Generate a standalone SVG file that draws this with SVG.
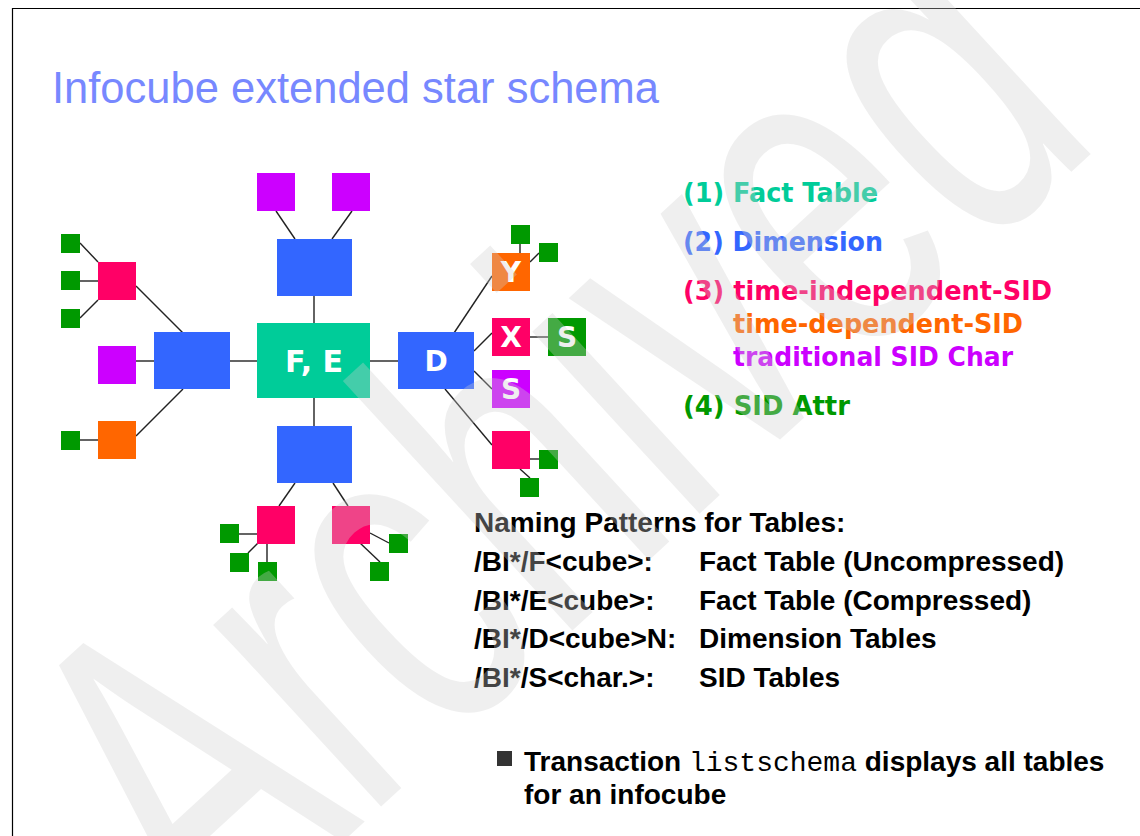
<svg xmlns="http://www.w3.org/2000/svg" width="1140" height="836" viewBox="0 0 1140 836">
  <style>
    .dim { fill: #3366ff; }
    .fact { fill: #00cc99; }
    .red { fill: #ff0066; }
    .ora { fill: #ff6600; }
    .pur { fill: #cc00ff; }
    .grn { fill: #009900; }
    .lbl { font-family: "DejaVu Sans", Verdana, sans-serif; font-weight: bold; fill: #ffffff; text-anchor: middle; }
    .leg { font-family: "DejaVu Sans", Verdana, sans-serif; font-weight: bold; font-size: 27px; }
    .txt { font-family: "Liberation Sans", Arial, sans-serif; font-weight: bold; font-size: 28px; fill: #000000; }
    .mono { font-family: "Liberation Mono", "Courier New", monospace; font-weight: normal; }
    #connectors line { stroke: #222222; stroke-width: 1.4; }
  </style>

  <rect width="1140" height="836" fill="#ffffff"/>
  <!-- page frame -->
  <path d="M12.5,836 V8.5 H1140" fill="none" stroke="#000000" stroke-width="1.2"/>

  <text x="52" y="103" font-family="Liberation Sans, Arial, sans-serif" font-size="43.5" fill="#7788ff">Infocube extended star schema</text>

  <g id="connectors">
    <line x1="80" y1="243" x2="98" y2="262"/>
    <line x1="80" y1="281" x2="98" y2="281"/>
    <line x1="80" y1="318" x2="98" y2="300"/>
    <line x1="136" y1="286" x2="183" y2="333"/>
    <line x1="136" y1="361" x2="154" y2="361"/>
    <line x1="230" y1="361" x2="257" y2="361"/>
    <line x1="370" y1="361" x2="398" y2="361"/>
    <line x1="314" y1="296" x2="314" y2="323"/>
    <line x1="276" y1="211" x2="295" y2="239"/>
    <line x1="352" y1="211" x2="332" y2="239"/>
    <line x1="183" y1="389" x2="136" y2="436"/>
    <line x1="80" y1="440" x2="98" y2="440"/>
    <line x1="314" y1="398" x2="314" y2="426"/>
    <line x1="295" y1="483" x2="279" y2="506"/>
    <line x1="239" y1="534" x2="257" y2="534"/>
    <line x1="248" y1="553" x2="258" y2="543"/>
    <line x1="267" y1="543" x2="267" y2="562"/>
    <line x1="333" y1="483" x2="348" y2="506"/>
    <line x1="370" y1="533" x2="389" y2="543"/>
    <line x1="360" y1="543" x2="380" y2="562"/>
    <line x1="520" y1="244" x2="520" y2="253"/>
    <line x1="530" y1="262" x2="539" y2="253"/>
    <line x1="454" y1="333" x2="492" y2="276"/>
    <line x1="474" y1="351" x2="492" y2="333"/>
    <line x1="530" y1="337" x2="548" y2="337"/>
    <line x1="474" y1="371" x2="492" y2="389"/>
    <line x1="445" y1="389" x2="492" y2="445"/>
    <line x1="530" y1="459" x2="539" y2="459"/>
    <line x1="520" y1="469" x2="530" y2="478"/>
  </g>

  <!-- fact table and dimensions -->
  <g id="fact"><rect class="fact" x="257" y="323" width="113" height="75"/><text class="lbl" x="314" y="372" font-size="30">F, E</text></g>
  <g id="dim-top"><rect class="dim" x="277" y="239" width="75" height="57"/></g>
  <g id="dim-left"><rect class="dim" x="154" y="332" width="76" height="57"/></g>
  <g id="dim-d"><rect class="dim" x="398" y="332" width="76" height="57"/><text class="lbl" x="436" y="371" font-size="28">D</text></g>
  <g id="dim-bottom"><rect class="dim" x="277" y="426" width="75" height="57"/></g>

  <!-- SID tables -->
  <g id="sid-top-1"><rect class="pur" x="257" y="173" width="38" height="38"/></g>
  <g id="sid-top-2"><rect class="pur" x="332" y="173" width="38" height="38"/></g>
  <g id="sid-left-1"><rect class="red" x="98" y="262" width="38" height="38"/></g>
  <g id="sid-left-2"><rect class="pur" x="98" y="346" width="38" height="38"/></g>
  <g id="sid-left-3"><rect class="ora" x="98" y="421" width="38" height="38"/></g>
  <g id="sid-bottom-1"><rect class="red" x="257" y="506" width="38" height="38"/></g>
  <g id="sid-bottom-2"><rect class="red" x="332" y="506" width="38" height="38"/></g>
  <g id="sid-y"><rect class="ora" x="492" y="253" width="38" height="38"/><text class="lbl" x="511" y="282" font-size="28">Y</text></g>
  <g id="sid-x"><rect class="red" x="492" y="318" width="38" height="38"/><text class="lbl" x="511" y="347" font-size="28">X</text></g>
  <g id="sid-s"><rect class="pur" x="492" y="370" width="38" height="38"/><text class="lbl" x="511" y="399" font-size="28">S</text></g>
  <g id="sid-right"><rect class="red" x="492" y="431" width="38" height="38"/></g>
  <g id="attr-s"><rect class="grn" x="548" y="318" width="38" height="38"/><text class="lbl" x="567" y="347" font-size="28">S</text></g>

  <!-- SID attribute tables -->
  <g id="attr-1"><rect class="grn" x="61" y="234" width="19" height="19"/></g>
  <g id="attr-2"><rect class="grn" x="61" y="271" width="19" height="19"/></g>
  <g id="attr-3"><rect class="grn" x="61" y="309" width="19" height="19"/></g>
  <g id="attr-4"><rect class="grn" x="61" y="431" width="19" height="19"/></g>
  <g id="attr-5"><rect class="grn" x="220" y="524" width="19" height="19"/></g>
  <g id="attr-6"><rect class="grn" x="230" y="553" width="19" height="19"/></g>
  <g id="attr-7"><rect class="grn" x="258" y="562" width="19" height="19"/></g>
  <g id="attr-8"><rect class="grn" x="389" y="534" width="19" height="19"/></g>
  <g id="attr-9"><rect class="grn" x="370" y="562" width="19" height="19"/></g>
  <g id="attr-10"><rect class="grn" x="511" y="225" width="19" height="19"/></g>
  <g id="attr-11"><rect class="grn" x="539" y="243" width="19" height="19"/></g>
  <g id="attr-12"><rect class="grn" x="539" y="450" width="19" height="19"/></g>
  <g id="attr-13"><rect class="grn" x="520" y="478" width="19" height="19"/></g>

  <!-- legend -->
  <g id="legend">
    <text class="leg" x="683" y="202" fill="#00cc99" textLength="195" lengthAdjust="spacingAndGlyphs">(1) Fact Table</text>
    <text class="leg" x="683" y="251" fill="#3366ff" textLength="200" lengthAdjust="spacingAndGlyphs">(2) Dimension</text>
    <text class="leg" x="683" y="300" fill="#ff0066" textLength="369" lengthAdjust="spacingAndGlyphs">(3) time-independent-SID</text>
    <text class="leg" x="733" y="333" fill="#ff6600" textLength="290" lengthAdjust="spacingAndGlyphs">time-dependent-SID</text>
    <text class="leg" x="733" y="366" fill="#cc00ff" textLength="280" lengthAdjust="spacingAndGlyphs">traditional SID Char</text>
    <text class="leg" x="683" y="415" fill="#009900" textLength="167" lengthAdjust="spacingAndGlyphs">(4) SID Attr</text>
  </g>

  <!-- naming patterns -->
  <g id="naming">
    <text class="txt" x="474" y="532">Naming Patterns for Tables:</text>
    <text class="txt" x="474" y="571">/BI*/F&lt;cube&gt;:</text>
    <text class="txt" x="699" y="571">Fact Table (Uncompressed)</text>
    <text class="txt" x="474" y="610">/BI*/E&lt;cube&gt;:</text>
    <text class="txt" x="699" y="610">Fact Table (Compressed)</text>
    <text class="txt" x="474" y="648">/BI*/D&lt;cube&gt;N:</text>
    <text class="txt" x="699" y="648">Dimension Tables</text>
    <text class="txt" x="474" y="687">/BI*/S&lt;char.&gt;:</text>
    <text class="txt" x="699" y="687">SID Tables</text>
  </g>

  <g id="note">
    <rect x="497" y="751" width="15" height="15" fill="#333333"/>
    <text class="txt" x="524" y="771">Transaction <tspan class="mono">listschema</tspan> displays all tables</text>
    <text class="txt" x="524" y="804">for an infocube</text>
  </g>

  <!-- translucent watermark laid over the page -->
  <text x="0" y="0" transform="translate(212,962) rotate(-42.6) scale(1,1.5)" font-family="Liberation Sans, Arial, sans-serif" font-size="312" fill="#cfcfcf" fill-opacity="0.33">Archived</text>
</svg>
